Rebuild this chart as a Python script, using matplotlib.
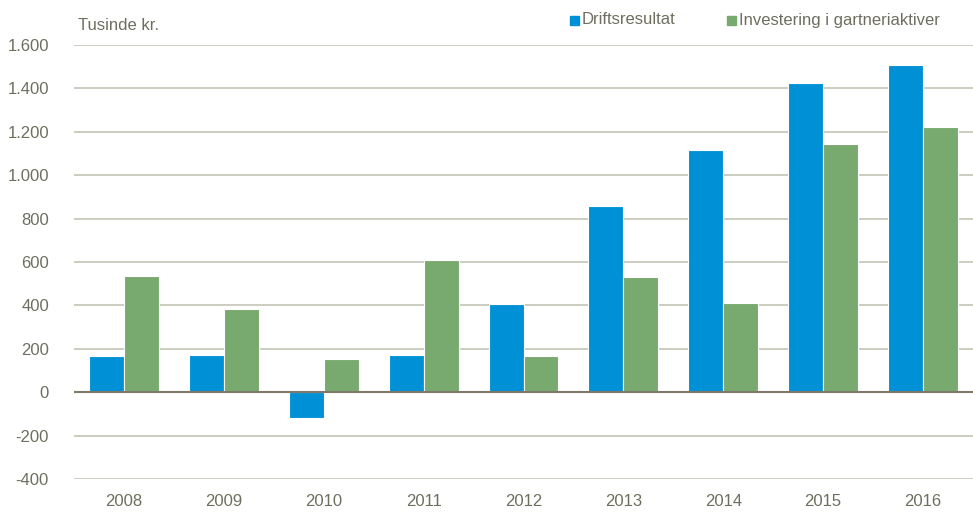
import numpy as np
import matplotlib.pyplot as plt

# data (tusinde kr.)
years = ['2008', '2009', '2010', '2011', '2012', '2013', '2014', '2015', '2016']
drift = [168, 171, -120, 172, 405, 860, 1118, 1425, 1508]
invest = [535, 382, 154, 607, 165, 530, 413, 1145, 1223]
labels = ['Driftsresultat', 'Investering i gartneriaktiver']

blue = '#0090D6'
green = '#78A96E'
txt = '#6E6E60'
fam = ['Liberation Sans', 'DejaVu Sans']

fig = plt.figure(figsize=(9.73, 5.15), dpi=100)
ax = fig.add_axes([74 / 973, 1 - 479 / 515, 899 / 973, (479 - 45) / 515])

x = np.arange(len(years))
w = 0.35
ax.bar(x - w / 2, drift, w, color=blue, edgecolor='white', linewidth=0.8, zorder=3)
ax.bar(x + w / 2, invest, w, color=green, edgecolor='white', linewidth=0.8, zorder=3)

ax.set_xlim(-0.5, len(years) - 0.5)
ax.set_ylim(-400, 1600)
ticks = np.arange(-400, 1601, 200)
ax.set_yticks(ticks)
ax.set_yticklabels([f'{t:,}'.replace(',', '.') for t in ticks],
                   fontfamily=fam, fontsize=12, color=txt)
ax.set_xticks(x)
ax.set_xticklabels(years, fontfamily=fam, fontsize=12, color=txt)
ax.tick_params(length=0)
ax.tick_params(axis='y', pad=18)
ax.tick_params(axis='x', pad=11)

for t in ticks:
    if t != 0:
        ax.axhline(t, color='#C4C4B6', linewidth=1.2, zorder=1)
ax.axhline(0, color='#7D7868', linewidth=1.5, zorder=4)

for s in ax.spines.values():
    s.set_visible(False)

fig.text(78 / 973, 1 - 25 / 515, 'Tusinde kr.', fontfamily=fam, fontsize=12,
         color=txt, va='center', ha='left')

# legend drawn by hand to match spacing
for px, col, lab in [(570, blue, labels[0]), (727, green, labels[1])]:
    fig.patches.append(plt.Rectangle((px / 973, 1 - 25 / 515), 9 / 973, 9 / 515,
                                     transform=fig.transFigure, color=col))
    fig.text((px + 12) / 973, 1 - 20 / 515, lab, fontfamily=fam, fontsize=12,
             color=txt, va='center', ha='left')

fig.savefig('out.png', dpi=100)
